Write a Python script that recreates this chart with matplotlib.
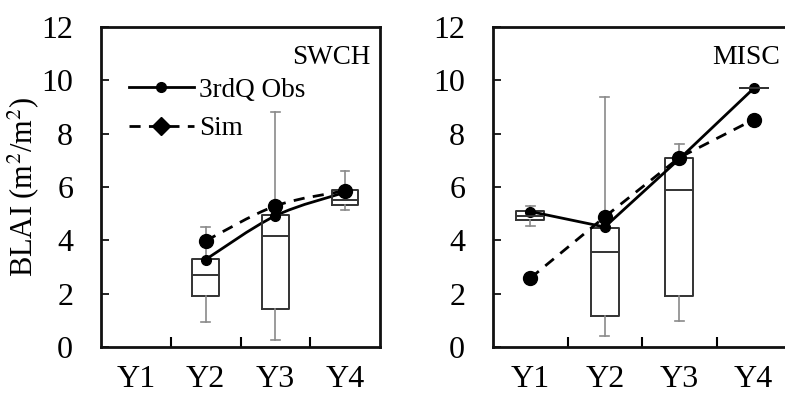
import matplotlib
matplotlib.use("Agg")
import matplotlib.pyplot as plt
from matplotlib.path import Path
from matplotlib.patches import PathPatch
from matplotlib.lines import Line2D
import numpy as np

plt.rcParams['font.family'] = ['Liberation Serif', 'DejaVu Serif']
plt.rcParams['mathtext.fontset'] = 'stix'

categories = ["Y1", "Y2", "Y3", "Y4"]
yticks = [0, 2, 4, 6, 8, 10, 12]

# SWCH boxes: (position, whisker_low, q1, median, q3, whisker_high)
swch_boxes = [
    (2, 0.93, 1.9, 2.7, 3.3, 4.5),
    (3, 0.25, 1.42, 4.17, 4.95, 8.8),
    (4, 5.13, 5.33, 5.5, 5.9, 6.6),
]
swch_obs_x = [2, 3, 4]
swch_obs = [3.28, 4.92, 5.8]
swch_sim_x = [2, 3, 4]
swch_sim = [3.98, 5.29, 5.86]

misc_boxes = [
    (1, 4.55, 4.76, 4.9, 5.1, 5.3),
    (2, 0.4, 1.17, 3.57, 4.45, 9.38),
    (3, 0.97, 1.9, 5.9, 7.1, 7.6),
    (4, 9.7, 9.7, 9.7, 9.7, 9.7),
]
misc_obs_x = [1, 2, 3, 4]
misc_obs = [5.08, 4.5, 7.05, 9.7]
misc_sim_x = [1, 2, 3, 4]
misc_sim = [2.58, 4.88, 7.1, 8.53]

fig = plt.figure(figsize=(7.85, 3.98), dpi=100)
ax1 = fig.add_axes([101/785, 1-347/398, 279/785, 320/398])
ax2 = fig.add_axes([493/785, 1-347/398, 298/785, 320/398])


def smooth_path(xs, ys, t=1/6):
    pts = np.column_stack([xs, ys])
    verts = [pts[0]]
    codes = [Path.MOVETO]
    n = len(pts)
    for i in range(n - 1):
        p0 = pts[i - 1] if i > 0 else pts[i]
        p1 = pts[i]
        p2 = pts[i + 1]
        p3 = pts[i + 2] if i + 2 < n else pts[i + 1]
        c1 = p1 + (p2 - p0) * t
        c2 = p2 - (p3 - p1) * t
        verts += [c1, c2, p2]
        codes += [Path.CURVE4] * 3
    return Path(verts, codes)


def draw_boxes(ax, boxes):
    stats = []
    pos = []
    for p, wl, q1, med, q3, wh in boxes:
        stats.append(dict(whislo=wl, q1=q1, med=med, q3=q3, whishi=wh, fliers=[]))
        pos.append(p)
    ax.bxp(stats, positions=pos, widths=0.38, showfliers=False,
           boxprops=dict(color='#333333', linewidth=1.4),
           medianprops=dict(color='#333333', linewidth=1.4),
           whiskerprops=dict(color='#8a8a8a', linewidth=1.2),
           capprops=dict(color='#8a8a8a', linewidth=1.2),
           capwidths=0.12, manage_ticks=False)


def style(ax):
    ax.set_xlim(0.5, 4.5)
    ax.set_ylim(0, 12)
    ax.set_yticks(yticks)
    ax.set_xticks([1, 2, 3, 4])
    ax.set_xticklabels(categories)
    ax.set_xticks([1.5, 2.5, 3.5], minor=True)
    ax.tick_params(axis='x', which='major', length=0, pad=13, labelsize=23)
    ax.tick_params(axis='x', which='minor', direction='in', length=7, width=1.5)
    ax.tick_params(axis='y', which='major', direction='in', length=6, width=1.2,
                   pad=20, labelsize=23)
    for s in ax.spines.values():
        s.set_linewidth(2)
        s.set_color('#111111')


# Left panel
draw_boxes(ax1, swch_boxes)
ax1.add_patch(PathPatch(smooth_path(swch_sim_x, swch_sim), fill=False,
                        edgecolor='black', linewidth=2, linestyle=(0, (4, 3))))
ax1.add_patch(PathPatch(smooth_path(swch_obs_x, swch_obs), fill=False,
                        edgecolor='black', linewidth=2))
ax1.plot(swch_sim_x, swch_sim, 'o', color='black', markersize=10, linestyle='none')
ax1.plot(swch_obs_x, swch_obs, 'o', color='black', markersize=7, linestyle='none')
style(ax1)
ax1.set_ylabel("BLAI (m$^2$/m$^2$)", fontsize=22, labelpad=0)
ax1.text(0.965, 0.905, "SWCH", transform=ax1.transAxes, ha='right', va='center', fontsize=19.5)
handles = [Line2D([], [], color='black', lw=2, marker='o', markersize=7),
           Line2D([], [], color='black', lw=2, linestyle=(0, (4, 3)), marker='D', markersize=9)]
ax1.legend(handles, ["3rdQ Obs", "Sim"], loc='upper left', bbox_to_anchor=(0.06, 0.875),
           frameon=False, fontsize=19.5, handlelength=2.4, handletextpad=0.2,
           labelspacing=0.5, borderaxespad=0)

# Right panel
draw_boxes(ax2, misc_boxes)
ax2.plot(misc_sim_x, misc_sim, color='black', lw=2, linestyle=(0, (4, 3)),
         marker='o', markersize=10)
ax2.plot(misc_obs_x, misc_obs, color='black', lw=2, marker='o', markersize=7)
style(ax2)
ax2.text(0.965, 0.905, "MISC", transform=ax2.transAxes, ha='right', va='center', fontsize=20)

fig.savefig("out.png", dpi=100)
